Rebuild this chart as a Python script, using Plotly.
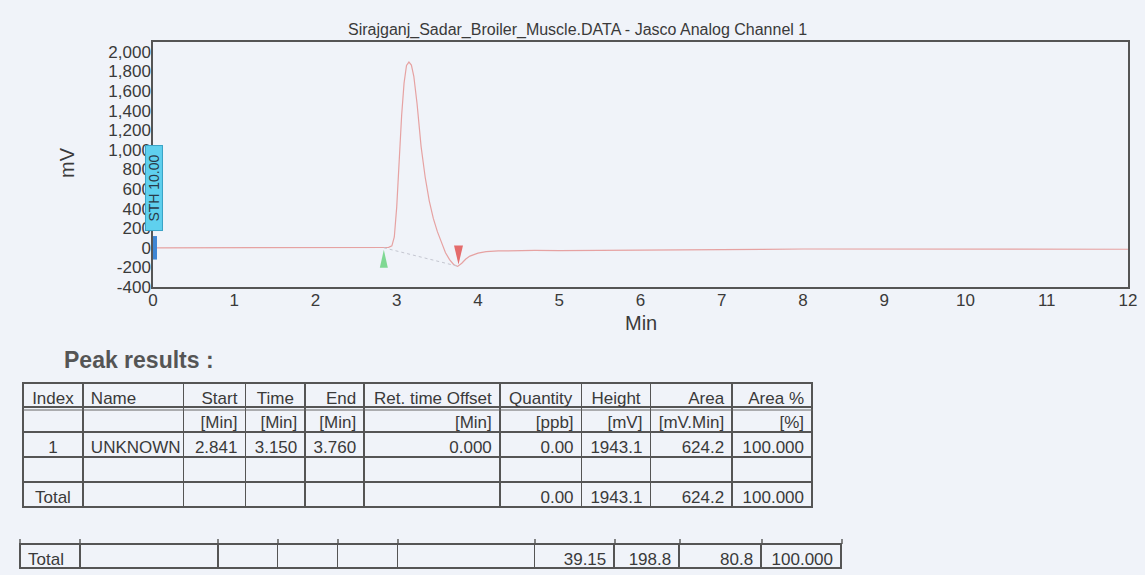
import plotly.graph_objects as go

# ---------------- chromatogram signal ----------------
time_min = [0.00, 1.00, 2.00, 2.80, 2.90, 2.94, 2.97, 3.00, 3.03, 3.06, 3.09, 3.12,
            3.15, 3.18, 3.21, 3.25, 3.30, 3.35, 3.40, 3.45, 3.50, 3.55, 3.60, 3.65,
            3.70, 3.75, 3.80, 3.85, 3.90, 4.00, 4.10, 4.25, 4.40, 4.70, 5.00, 5.50,
            6.00, 6.50, 7.00, 7.50, 8.00, 9.00, 10.00, 10.50, 11.00, 12.00]
signal_mv = [0, 0, 2, 3, 5, 20, 110, 420, 930, 1350, 1680, 1860,
             1895, 1865, 1750, 1470, 1030, 720, 480, 300, 165, 50, -50, -120,
             -170, -190, -158, -115, -85, -55, -40, -32, -28, -27, -28, -27,
             -25, -22, -20, -17, -12, -12, -12, -14, -15, -15]

# integration events
peak_start = [2.841]
peak_end = [3.760]
baseline_mv = [0, -190]
event_time = [0.0]
event_label = ["STH 10.00"]

y_ticks = [-400, -200, 0, 200, 400, 600, 800, 1000, 1200, 1400, 1600, 1800, 2000]
y_tick_text = ["-400", "-200", "0", "200", "400", "600", "800", "1,000", "1,200",
               "1,400", "1,600", "1,800", "2,000"]
x_ticks = list(range(0, 13))

# ---------------- peak table ----------------
col_names = ["Index", "Name", "Start", "Time", "End", "Ret.\u00a0time\u00a0Offset",
             "Quantity", "Height", "Area", "Area\u00a0%"]
col_units = ["", "", "[Min]", "[Min]", "[Min]", "[Min]", "[ppb]", "[mV]", "[mV.Min]", "[%]"]
peak_row = ["1", "UNKNOWN", "2.841", "3.150", "3.760", "0.000", "0.00", "1943.1", "624.2", "100.000"]
blank_row = [""] * 10
total_row = ["Total", "", "", "", "", "", "0.00", "1943.1", "624.2", "100.000"]
grand_total_row = ["Total", "", "", "", "", "", "39.15", "198.8", "80.8", "100.000"]

W, H = 1145, 575
BG = "#f0f3f9"
INK = "#3a3a3a"
RULE = "#555555"
FONT = "Liberation Sans, Arial, sans-serif"


def fx(px):
    return px / W


def fy(py):
    return 1 - py / H


fig = go.Figure()

# signal trace
fig.add_trace(go.Scatter(x=time_min, y=signal_mv, mode="lines",
                         line=dict(color="#e6a2a2", width=1.2),
                         showlegend=False, hoverinfo="skip"))
# drop baseline under the peak
fig.add_trace(go.Scatter(x=[peak_start[0], peak_end[0]], y=baseline_mv, mode="lines",
                         line=dict(color="#c4c6d0", width=1, dash="dot"),
                         showlegend=False, hoverinfo="skip"))

# peak start / end markers
fig.add_shape(type="path", xref="x", yref="y", xsizemode="pixel", ysizemode="pixel",
              xanchor=peak_start[0], yanchor=baseline_mv[0],
              path="M0,-2 L4,-20 L-4,-20 Z", fillcolor="#7fd893", line=dict(width=0))
fig.add_shape(type="path", xref="x", yref="y", xsizemode="pixel", ysizemode="pixel",
              xanchor=peak_end[0], yanchor=baseline_mv[1],
              path="M0,2 L4.5,21 L-4.5,21 Z", fillcolor="#e46c6c", line=dict(width=0))

# event marker at t = 0
fig.add_shape(type="rect", xref="x", yref="y", xsizemode="pixel",
              xanchor=event_time[0], x0=0, x1=4, y0=-120, y1=120,
              fillcolor="#3f86d4", line=dict(width=0))
fig.add_annotation(x=event_time[0], y=610, xref="x", yref="y", text=event_label[0],
                   textangle=-90, showarrow=False, xshift=1,
                   xanchor="center", yanchor="middle", width=82, height=14,
                   bgcolor="#5fd0ee", bordercolor="#3aa3c6", borderwidth=1, borderpad=1,
                   font=dict(family=FONT, size=14, color="#2a3a48"))

# titles
fig.add_annotation(x=fx(577), y=fy(30), xref="paper", yref="paper",
                   xanchor="center", yanchor="middle",
                   text="Sirajganj_Sadar_Broiler_Muscle.DATA - Jasco Analog Channel 1",
                   showarrow=False, font=dict(family=FONT, size=16, color=INK))
fig.add_annotation(x=fx(67), y=fy(163), xref="paper", yref="paper", text="mV",
                   xanchor="center", yanchor="middle",
                   textangle=-90, showarrow=False, font=dict(family=FONT, size=20, color=INK))
fig.add_annotation(x=fx(641), y=fy(323), xref="paper", yref="paper", text="Min",
                   xanchor="center", yanchor="middle",
                   showarrow=False, font=dict(family=FONT, size=20, color=INK))
fig.add_annotation(x=fx(62), y=fy(360), xref="paper", yref="paper",
                   xanchor="left", yanchor="middle",
                   text="<b>Peak results :</b>", showarrow=False,
                   font=dict(family=FONT, size=23, color="#555555"))

# peak results table
widths1 = [60, 101, 62, 60, 59, 136, 82, 69, 82, 80]
rows = [col_units, peak_row, blank_row, total_row]
t1_left, t1_right = 23, 813
fig.add_trace(go.Table(
    domain=dict(x=[fx(t1_left), fx(t1_right)], y=[fy(540), fy(383)]),
    columnwidth=widths1,
    header=dict(values=col_names, height=24,
                align=["center", "left", "right", "center", "right", "right",
                       "center", "center", "right", "right"],
                fill_color=BG, line=dict(color=RULE, width=1.6),
                font=dict(family=FONT, size=17, color=INK)),
    cells=dict(values=[[r[i] for r in rows] for i in range(10)], height=25,
               align=["center", "left", "right", "right", "right", "right",
                      "right", "right", "right", "right"],
               fill_color=BG, line=dict(color=RULE, width=1.6),
               font=dict(family=FONT, size=17, color=INK))))

# grand total table
widths2 = [60, 138, 60, 60, 60, 137, 80, 65, 82, 80]
t2_left, t2_right, t2_top = 20, 842, 544
fig.add_trace(go.Table(
    domain=dict(x=[fx(t2_left), fx(t2_right)], y=[0, fy(t2_top)]),
    columnwidth=widths2,
    header=dict(values=grand_total_row, height=24,
                align=["left"] + ["right"] * 9,
                fill_color=BG, line=dict(color=RULE, width=1.6),
                font=dict(family=FONT, size=17, color=INK)),
    cells=dict(values=[[] for _ in range(10)])))

# short column ticks rising above the grand total row
edge = t2_left
for w in [0] + widths2:
    edge += w
    fig.add_shape(type="line", xref="paper", yref="paper",
                  x0=fx(edge), x1=fx(edge),
                  y0=fy(t2_top), y1=fy(t2_top - 5), line=dict(color=RULE, width=1.4))

# double rule below the table header
fig.add_shape(type="line", xref="paper", yref="paper", x0=fx(t1_left), x1=fx(t1_right),
              y0=fy(410), y1=fy(410), line=dict(color="#666666", width=1))

fig.update_layout(
    width=W, height=H,
    margin=dict(l=0, r=0, t=0, b=0, autoexpand=False),
    paper_bgcolor=BG, plot_bgcolor=BG,
    font=dict(family=FONT, color=INK),
    xaxis=dict(domain=[fx(153), fx(1128)], range=[0, 12], tickvals=x_ticks,
               showgrid=False, zeroline=False, showline=True, mirror=True,
               linecolor=RULE, linewidth=1.5, ticks="", automargin=False,
               ticklabelstandoff=-3,
               tickfont=dict(family=FONT, size=17, color=INK)),
    yaxis=dict(domain=[fy(287), fy(42)], range=[-400, 2100], tickvals=y_ticks,
               ticktext=y_tick_text, showgrid=False, zeroline=False, showline=True,
               mirror=True, linecolor=RULE, linewidth=1.5, ticks="",
               automargin=False, ticklabelstandoff=-3,
               tickfont=dict(family=FONT, size=17, color=INK)),
)

fig.write_html("out.html")
